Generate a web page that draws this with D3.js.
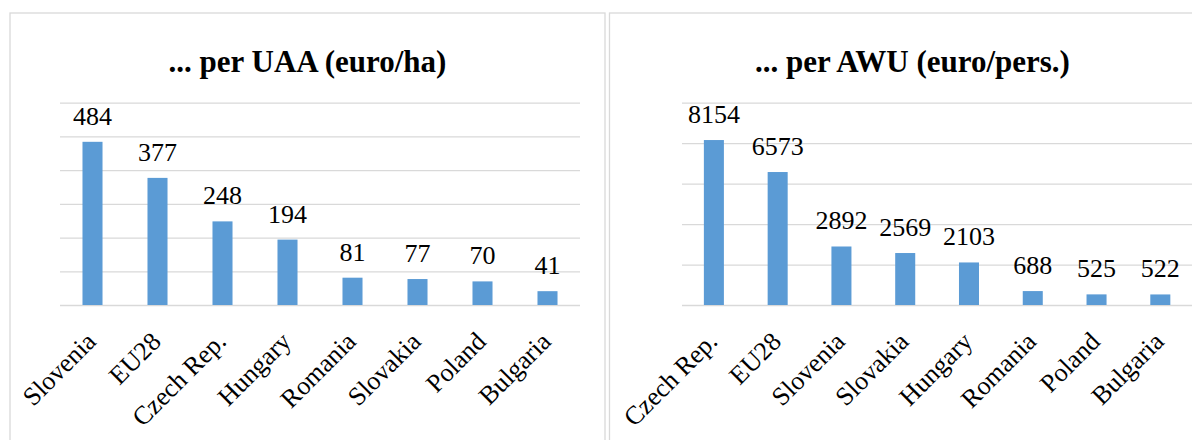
<!DOCTYPE html>
<html>
<head>
<meta charset="utf-8">
<script src="https://cdn.jsdelivr.net/npm/d3@7"></script>
<style>
  html, body { margin: 0; padding: 0; background: #ffffff; }
  svg { display: block; }
</style>
</head>
<body>
<svg id="chart" width="1192" height="440"></svg>
<script>
// Support per hectare of utilised agricultural area (euro/ha)
const uaaTitle = "... per UAA (euro/ha)";
const uaaCountries = ["Slovenia", "EU28", "Czech Rep.", "Hungary", "Romania", "Slovakia", "Poland", "Bulgaria"];
const uaaValues = [484, 377, 248, 194, 81, 77, 70, 41];
const uaaTicks = [0, 100, 200, 300, 400, 500, 600];

// Support per annual work unit (euro/person)
const awuTitle = "... per AWU (euro/pers.)";
const awuCountries = ["Czech Rep.", "EU28", "Slovenia", "Slovakia", "Hungary", "Romania", "Poland", "Bulgaria"];
const awuValues = [8154, 6573, 2892, 2569, 2103, 688, 525, 522];
const awuTicks = [0, 2000, 4000, 6000, 8000, 10000];

const svg = d3.select("#chart");
const FONT = '"Liberation Serif", "Times New Roman", Times, serif';
const BAR = "#5b9bd5";
const GRID = "#d9d9d9";

function panel(cfg) {
  const g = svg.append("g");

  // chart frame
  g.append("rect")
    .attr("x", cfg.frame[0]).attr("y", cfg.frame[1])
    .attr("width", cfg.frame[2]).attr("height", cfg.frame[3])
    .attr("fill", "#ffffff").attr("stroke", GRID).attr("stroke-width", 1.3);

  // title
  g.append("text")
    .attr("x", cfg.titleX).attr("y", 71.5)
    .attr("text-anchor", "middle")
    .style("font-family", FONT)
    .style("font-size", "31px").style("font-weight", "bold")
    .style("fill", "#000")
    .text(cfg.title);

  const x = d3.scaleBand()
    .domain(cfg.categories)
    .range([cfg.left, cfg.right])
    .paddingInner(cfg.pad).paddingOuter(cfg.pad / 2);

  const y = d3.scaleLinear()
    .domain([0, d3.max(cfg.ticks)])
    .range([305, 102.7]);

  // horizontal gridlines
  const grid = g.append("g")
    .attr("transform", `translate(${cfg.left},0)`)
    .call(d3.axisLeft(y).tickValues(cfg.ticks).tickSize(-(cfg.gridRight - cfg.left)).tickFormat(""));
  grid.select(".domain").remove();
  grid.selectAll(".tick line").attr("stroke", GRID).attr("stroke-width", 1.3);

  // bars
  const data = cfg.categories.map((c, i) => ({ c, v: cfg.values[i] }));
  g.selectAll("rect.bar").data(data).join("rect")
    .attr("class", "bar")
    .attr("x", d => x(d.c))
    .attr("width", x.bandwidth())
    .attr("y", d => y(d.v))
    .attr("height", d => y(0) - y(d.v))
    .attr("fill", BAR);

  // value labels
  g.selectAll("text.val").data(data).join("text")
    .attr("class", "val")
    .attr("x", d => x(d.c) + x.bandwidth() / 2)
    .attr("y", d => y(d.v) - 17)
    .attr("text-anchor", "middle")
    .style("font-family", FONT)
    .style("font-size", "26px")
    .style("fill", "#000")
    .text(d => d.v);

  // category axis with slanted labels
  const xa = g.append("g")
    .attr("transform", `translate(0,${y(0)})`)
    .call(d3.axisBottom(x).tickSize(0));
  xa.select(".domain").remove();
  xa.selectAll(".tick text")
    .attr("x", 0).attr("y", 0).attr("dy", null)
    .attr("transform", "translate(5,38) rotate(-45)")
    .attr("text-anchor", "end")
    .style("font-family", FONT)
    .style("font-size", "26px")
    .style("fill", "#000");
}

panel({
  frame: [10, 13, 595, 440],
  title: uaaTitle, titleX: 307.5,
  categories: uaaCountries, values: uaaValues, ticks: uaaTicks,
  left: 60, right: 580, gridRight: 580, pad: 0.692
});

panel({
  frame: [609.5, 13, 620, 440],
  title: awuTitle, titleX: 912.5,
  categories: awuCountries, values: awuValues, ticks: awuTicks,
  left: 682, right: 1192.2, gridRight: 1192, pad: 0.686
});
</script>
</body>
</html>
